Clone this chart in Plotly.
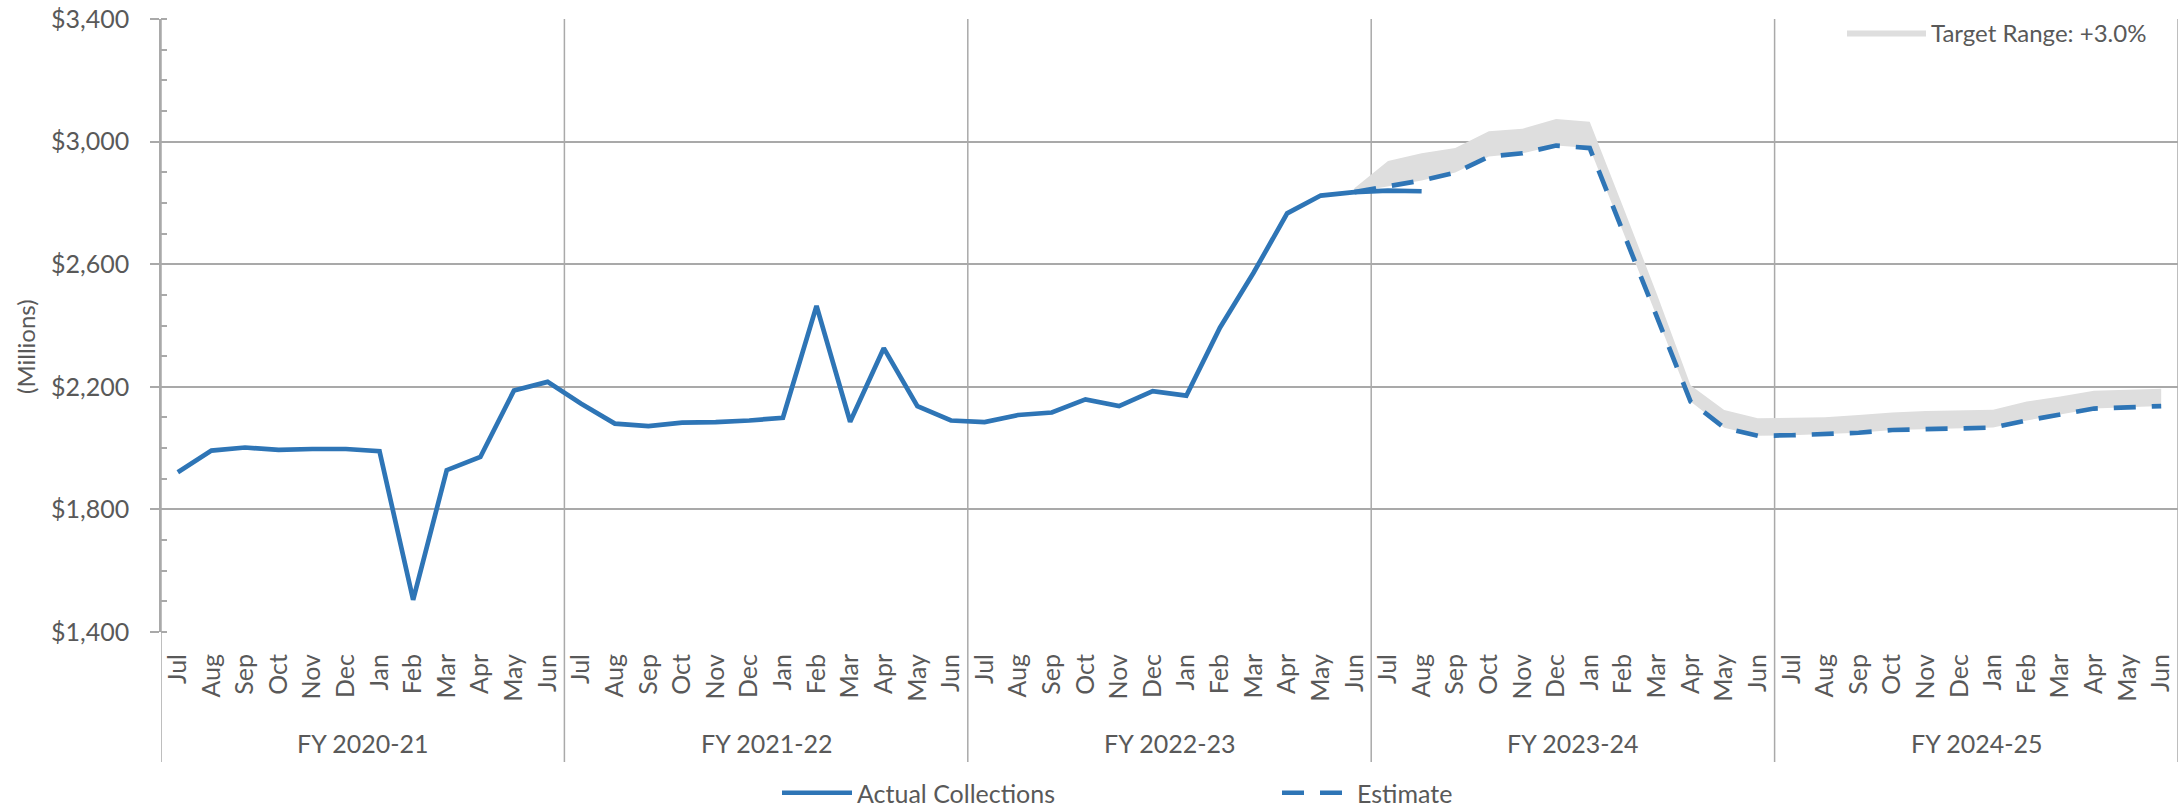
import plotly.graph_objects as go

# ---------------- data ----------------
months = ["Jul", "Aug", "Sep", "Oct", "Nov", "Dec", "Jan", "Feb", "Mar", "Apr", "May", "Jun"]
fiscal_years = ["FY 2020-21", "FY 2021-22", "FY 2022-23", "FY 2023-24", "FY 2024-25"]

# Actual collections ($ millions), starting Jul FY 2020-21
actual_collections = [
    1921, 1992, 2002, 1994, 1997, 1997, 1990, 1505, 1928, 1971, 2188, 2216,   # FY 2020-21
    2145, 2080, 2072, 2083, 2085, 2090, 2099, 2464, 2086, 2326, 2137, 2090,   # FY 2021-22
    2085, 2108, 2116, 2159, 2137, 2186, 2171, 2393, 2572, 2766, 2824, 2835,   # FY 2022-23
    2840, 2838,                                                               # FY 2023-24
]

# Estimate ($ millions), starting Jun FY 2022-23
estimate_start_index = 35
estimate = [
    2835,
    2853, 2873, 2899, 2951, 2962, 2987, 2979, 2705, 2430, 2152, 2066, 2040,   # FY 2023-24
    2042, 2045, 2050, 2059, 2061, 2065, 2067, 2090, 2110, 2129, 2133, 2137,   # FY 2024-25
]

# Upper edge of target range band ($ millions), starting Jun FY 2022-23
target_upper = [
    2848,
    2937, 2962, 2979, 3034, 3042, 3074, 3065, 2785, 2502, 2205, 2124, 2097,
    2098, 2101, 2108, 2116, 2121, 2124, 2125, 2152, 2168, 2187, 2190, 2194,
]

# ---------------- styling ----------------
FONT = "Lato"
TXT = "#595959"
GRID = "#A9A9A9"
BLUE = "#2E75B6"
BAND = "#DEDEDE"

W, H = 2179, 810
ML, MR, MT, MB = 161, 1, 19, 178
PW = W - ML - MR
PH = H - MT - MB


def px_x(p):
    return (p - ML) / PW


def px_y(p):
    return (H - MB - p) / PH


n_per_year = len(months)
n_total = n_per_year * len(fiscal_years)
x_all = list(range(n_total))
x_actual = x_all[:len(actual_collections)]
x_est = x_all[estimate_start_index:estimate_start_index + len(estimate)]

fig = go.Figure()

# target range band
fig.add_trace(go.Scatter(
    x=x_est, y=estimate, mode="lines", line=dict(width=0, color=BAND),
    showlegend=False, hoverinfo="skip"))
fig.add_trace(go.Scatter(
    x=x_est, y=target_upper, mode="lines", line=dict(width=0, color=BAND),
    fill="tonexty", fillcolor=BAND, name="Target Range: +3.0%",
    legend="legend3"))

fig.add_trace(go.Scatter(
    x=x_actual, y=actual_collections, mode="lines", name="Actual Collections",
    line=dict(color=BLUE, width=4.7), legend="legend"))
fig.add_trace(go.Scatter(
    x=x_est, y=estimate, mode="lines", name="Estimate",
    line=dict(color=BLUE, width=4.7, dash="22px,16px"), legend="legend2"))

# FY dividers (category group boundaries), extending down through the label area
for k in range(len(fiscal_years) + 1):
    fig.add_shape(type="line", xref="x", yref="paper",
                  x0=k * n_per_year - 0.5, x1=k * n_per_year - 0.5,
                  y0=px_y(762), y1=1, line=dict(color=GRID, width=1.5), layer="below")

# FY labels
for k, fy in enumerate(fiscal_years):
    fig.add_annotation(x=k * n_per_year + (n_per_year - 1) / 2, y=px_y(743),
                       xref="x", yref="paper", text=fy, showarrow=False,
                       font=dict(family=FONT, size=25, color=TXT),
                       xanchor="center", yanchor="middle")

# y-axis title
fig.add_annotation(x=px_x(25), y=px_y(347), xref="paper", yref="paper",
                   text="(Millions)", textangle=-90, showarrow=False,
                   font=dict(family=FONT, size=24, color=TXT),
                   xanchor="center", yanchor="middle")

fig.update_layout(
    width=W, height=H,
    margin=dict(l=ML, r=MR, t=MT, b=MB, pad=0, autoexpand=False),
    paper_bgcolor="white", plot_bgcolor="white",
    font=dict(family=FONT, color=TXT),
    xaxis=dict(
        range=[-0.5, n_total - 0.5], automargin=False,
        tickmode="array", tickvals=x_all, ticktext=months * len(fiscal_years),
        tickangle=-90, ticks="", showgrid=False, zeroline=False,
        showline=False, tickfont=dict(family=FONT, size=25, color=TXT),
        ticklabelstandoff=16,
    ),
    yaxis=dict(
        range=[1400, 3400], dtick=400, tick0=1400, automargin=False,
        tickprefix="$", tickformat=",",
        showgrid=True, gridcolor=GRID, gridwidth=1.5,
        showline=True, linecolor=GRID, linewidth=1.5,
        ticks="outside", ticklen=9, tickcolor=GRID, tickwidth=1.5,
        minor=dict(dtick=100, ticks="inside", ticklen=6, tickcolor=GRID,
                   tickwidth=1.5, showgrid=False),
        zeroline=False, tickfont=dict(family=FONT, size=25, color=TXT),
        ticklabelstandoff=16,
    ),
    legend=dict(x=px_x(777), y=px_y(793), xanchor="left", yanchor="middle",
                orientation="h", itemwidth=70, bgcolor="rgba(0,0,0,0)",
                font=dict(family=FONT, size=25, color=TXT)),
    legend2=dict(x=px_x(1277), y=px_y(793), xanchor="left", yanchor="middle",
                 orientation="h", itemwidth=70, bgcolor="rgba(0,0,0,0)",
                 font=dict(family=FONT, size=25, color=TXT)),
    legend3=dict(x=px_x(1842), y=px_y(33), xanchor="left", yanchor="middle",
                 orientation="h", itemwidth=79, bgcolor="rgba(0,0,0,0)",
                 font=dict(family=FONT, size=24, color=TXT)),
)

fig.write_html(
    "out.html",
    config={"displayModeBar": False},
    post_script="document.body.style.margin='0';document.body.style.overflow='hidden';",
)
